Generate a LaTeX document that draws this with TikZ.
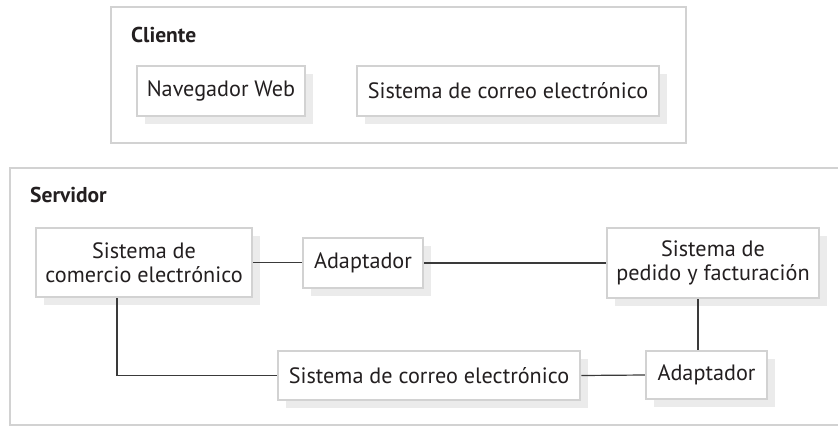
\documentclass[tikz,border=0pt]{standalone}
\usepackage{fontspec}
\setmainfont{PT Sans}
\usetikzlibrary{shadows}
\definecolor{boxgray}{HTML}{D2D2D2}
\definecolor{shadowgray}{HTML}{EBEBEB}
\definecolor{txt}{HTML}{231F20}
\definecolor{wire}{HTML}{3A3A3A}
\tikzset{
  compbox/.style={draw=boxgray, line width=2.5pt, fill=white, text=txt,
    inner sep=0pt, align=center,
    font=\fontsize{22.2}{23.5}\selectfont,
    drop shadow={shadow xshift=8pt, shadow yshift=-8pt, fill=shadowgray, opacity=1}},
  groupbox/.style={draw=boxgray, line width=2.5pt},
  grouplabel/.style={font=\fontsize{21.5}{24}\selectfont\bfseries, text=txt, anchor=base west, inner sep=0pt},
  wireline/.style={draw=wire, line width=1.2pt}
}
\begin{document}
\begin{tikzpicture}[x=1pt, y=-1pt]
\useasboundingbox (0,0) rectangle (838,426);
% Cliente group
\draw[groupbox] (111,7) rectangle (686,143);
\node[grouplabel] (cliente) at (131,42) {Cliente};
\node[compbox, minimum width=168pt, minimum height=50pt] (nav) at (221,91) {Navegador Web};
\node[compbox, minimum width=302pt, minimum height=50pt] (csys) at (508,91) {Sistema de correo electrónico};
% Servidor group
\begin{scope}
\clip (0,0) rectangle (838,426);
\draw[groupbox] (845,168) -- (10,168) -- (10,425) -- (845,425);
\end{scope}
\node[grouplabel] (servidor) at (30,202) {Servidor};
\node[compbox, minimum width=216pt, minimum height=69pt] (com) at (144,262.5) {Sistema de\\comercio electrónico};
\node[compbox, minimum width=120pt, minimum height=50pt] (ad1) at (363,263) {Adaptador};
\node[compbox, minimum width=212pt, minimum height=70pt] (ped) at (713,263) {Sistema de\\pedido y facturación};
\node[compbox, minimum width=302pt, minimum height=49pt] (ssys) at (429,375.5) {Sistema de correo electrónico};
\node[compbox, minimum width=121pt, minimum height=48pt] (ad2) at (706.5,375) {Adaptador};
% connectors
\draw[wireline] (com.east) -- (com.east -| ad1.west);
\draw[wireline] (ad1.east) -- (ad1.east -| ped.west);
\draw[wireline] ([xshift=-15pt]ped.south) -- ([xshift=-15pt]ped.south |- ad2.north);
\draw[wireline] ([xshift=-27pt]com.south) |- (ssys.west);
\draw[wireline] (ssys.east) -- (ad2.west);
\end{tikzpicture}
\end{document}
